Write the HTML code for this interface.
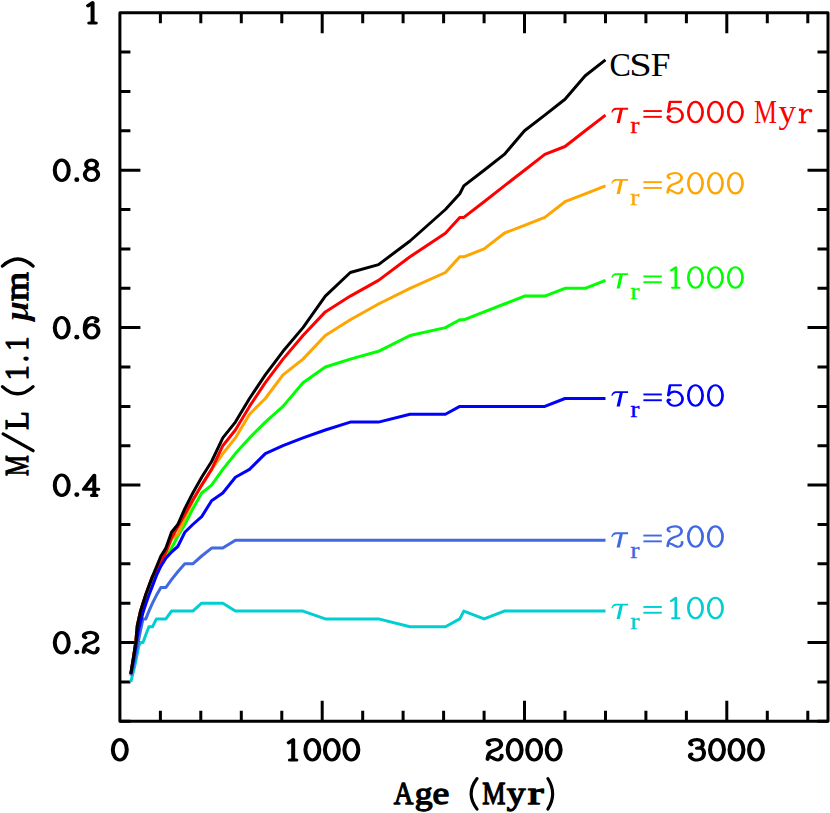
<!DOCTYPE html>
<html><head><meta charset="utf-8"><title>M/L vs Age</title>
<style>
html,body{margin:0;padding:0;background:#fff;overflow:hidden;}
svg{display:block;}
text{font-family:"Liberation Serif",serif;}
</style></head><body>
<svg width="830" height="813" viewBox="0 0 830 813">
<rect x="0" y="0" width="830" height="813" fill="#ffffff"/>

<g stroke="#000" stroke-width="3" fill="none" stroke-linecap="butt">
<rect x="119.9" y="12.7" width="708.1" height="708.6" stroke-linejoin="round"/>
<path d="M160.4 721.3 v-10.5 M160.4 12.7 v10.5 M200.8 721.3 v-10.5 M200.8 12.7 v10.5 M241.3 721.3 v-10.5 M241.3 12.7 v10.5 M281.8 721.3 v-10.5 M281.8 12.7 v10.5 M322.2 721.3 v-20.5 M322.2 12.7 v20.5 M362.7 721.3 v-10.5 M362.7 12.7 v10.5 M403.1 721.3 v-10.5 M403.1 12.7 v10.5 M443.6 721.3 v-10.5 M443.6 12.7 v10.5 M484.1 721.3 v-10.5 M484.1 12.7 v10.5 M524.5 721.3 v-20.5 M524.5 12.7 v20.5 M565.0 721.3 v-10.5 M565.0 12.7 v10.5 M605.5 721.3 v-10.5 M605.5 12.7 v10.5 M645.9 721.3 v-10.5 M645.9 12.7 v10.5 M686.4 721.3 v-10.5 M686.4 12.7 v10.5 M726.8 721.3 v-20.5 M726.8 12.7 v20.5 M767.3 721.3 v-10.5 M767.3 12.7 v10.5 M807.8 721.3 v-10.5 M807.8 12.7 v10.5 M119.9 721.3 h10.5 M828.0 721.3 h-10.5 M119.9 681.9 h10.5 M828.0 681.9 h-10.5 M119.9 642.6 h20.5 M828.0 642.6 h-20.5 M119.9 603.2 h10.5 M828.0 603.2 h-10.5 M119.9 563.8 h10.5 M828.0 563.8 h-10.5 M119.9 524.5 h10.5 M828.0 524.5 h-10.5 M119.9 485.1 h20.5 M828.0 485.1 h-20.5 M119.9 445.7 h10.5 M828.0 445.7 h-10.5 M119.9 406.4 h10.5 M828.0 406.4 h-10.5 M119.9 367.0 h10.5 M828.0 367.0 h-10.5 M119.9 327.6 h20.5 M828.0 327.6 h-20.5 M119.9 288.3 h10.5 M828.0 288.3 h-10.5 M119.9 248.9 h10.5 M828.0 248.9 h-10.5 M119.9 209.5 h10.5 M828.0 209.5 h-10.5 M119.9 170.2 h20.5 M828.0 170.2 h-20.5 M119.9 130.8 h10.5 M828.0 130.8 h-10.5 M119.9 91.4 h10.5 M828.0 91.4 h-10.5 M119.9 52.1 h10.5 M828.0 52.1 h-10.5"/>
</g>
<g fill="none" stroke-width="3" stroke-linejoin="round" stroke-linecap="butt">
<path d="M130.8 681.9 L132.0 677.2 L133.3 671.7 L134.5 667.0 L135.9 660.7 L137.3 653.6 L138.9 645.7 L140.5 642.6 L143.0 642.6 L145.8 634.7 L148.9 626.8 L152.5 626.8 L156.4 618.9 L160.9 618.9 L165.9 618.9 L171.5 611.1 L177.8 611.1 L184.8 611.1 L192.8 611.1 L201.7 603.2 L211.6 603.2 L222.8 603.2 L235.4 611.1 L249.5 611.1 L265.3 611.1 L283.0 611.1 L303.0 611.1 L325.3 618.9 L350.3 618.9 L378.5 618.9 L410.0 626.8 L445.4 626.8 L459.8 618.9 L463.8 611.1 L484.1 618.9 L504.3 611.1 L524.5 611.1 L544.8 611.1 L565.0 611.1 L585.2 611.1 L605.5 611.1" stroke="#00ced1"/>
<path d="M130.8 675.6 L132.0 671.7 L133.3 667.0 L134.5 661.5 L135.9 654.4 L137.3 647.3 L138.9 638.6 L140.5 630.8 L143.0 618.9 L145.8 618.9 L148.9 611.1 L152.5 603.2 L156.4 595.3 L160.9 587.5 L165.9 587.5 L171.5 579.6 L177.8 571.7 L184.8 563.8 L192.8 563.8 L201.7 556.0 L211.6 548.1 L222.8 548.1 L235.4 540.2 L249.5 540.2 L265.3 540.2 L283.0 540.2 L303.0 540.2 L325.3 540.2 L350.3 540.2 L378.5 540.2 L410.0 540.2 L445.4 540.2 L459.8 540.2 L463.8 540.2 L484.1 540.2 L504.3 540.2 L524.5 540.2 L544.8 540.2 L565.0 540.2 L585.2 540.2 L605.5 540.2" stroke="#4169e1"/>
<path d="M130.8 674.1 L132.0 667.0 L133.3 659.9 L134.5 652.0 L135.9 644.1 L137.3 634.7 L138.9 626.0 L140.5 618.9 L143.0 609.5 L145.8 600.8 L148.9 592.2 L152.5 582.7 L156.4 573.3 L160.9 564.6 L165.9 556.7 L171.5 548.1 L177.8 536.3 L184.8 524.5 L192.8 508.7 L201.7 493.0 L211.6 485.1 L222.8 469.4 L235.4 453.6 L249.5 437.9 L265.3 422.1 L283.0 406.4 L303.0 382.7 L325.3 367.0 L350.3 359.1 L378.5 351.3 L410.0 335.5 L445.4 327.6 L459.8 319.8 L463.8 319.8 L484.1 311.9 L504.3 304.0 L524.5 296.1 L544.8 296.1 L565.0 288.3 L585.2 288.3 L605.5 280.4" stroke="#00ff00"/>
<path d="M130.8 674.1 L132.0 666.2 L133.3 658.3 L134.5 650.4 L135.9 641.0 L137.3 625.5 L138.9 618.2 L140.5 611.1 L143.0 603.2 L145.8 594.5 L148.9 585.9 L152.5 576.4 L156.4 571.7 L160.9 562.3 L165.9 552.8 L171.5 539.4 L177.8 533.9 L184.8 518.2 L192.8 500.8 L201.7 485.1 L211.6 469.4 L222.8 453.6 L235.4 437.9 L249.5 414.2 L265.3 398.5 L283.0 374.9 L303.0 359.1 L325.3 335.5 L350.3 319.8 L378.5 304.0 L410.0 288.3 L445.4 272.5 L459.8 256.8 L463.8 256.8 L484.1 248.9 L504.3 233.2 L524.5 225.3 L544.8 217.4 L565.0 201.7 L585.2 193.8 L605.5 185.9" stroke="#ffa500"/>
<path d="M130.8 674.1 L132.0 666.2 L133.3 658.3 L134.5 650.4 L135.9 641.0 L137.3 625.5 L138.9 618.2 L140.5 611.1 L143.0 603.2 L145.8 594.5 L148.9 585.9 L152.5 576.4 L156.4 571.7 L160.9 562.3 L165.9 552.0 L171.5 537.9 L177.8 526.8 L184.8 514.2 L192.8 500.1 L201.7 485.1 L211.6 469.4 L222.8 445.7 L235.4 430.0 L249.5 406.4 L265.3 382.7 L283.0 359.1 L303.0 335.5 L325.3 311.9 L350.3 296.1 L378.5 280.4 L410.0 256.8 L445.4 233.2 L459.8 217.4 L463.8 217.4 L484.1 201.7 L504.3 185.9 L524.5 170.2 L544.8 154.4 L565.0 146.5 L585.2 130.8 L605.5 115.1" stroke="#ff0000"/>
<path d="M130.8 674.1 L132.0 667.8 L133.3 661.5 L134.5 654.4 L135.9 646.5 L137.3 637.1 L138.9 628.4 L140.5 622.1 L143.0 612.6 L145.8 604.0 L148.9 595.3 L152.5 585.9 L156.4 575.6 L160.9 566.2 L165.9 558.3 L171.5 552.0 L177.8 546.5 L184.8 532.3 L192.8 524.5 L201.7 516.6 L211.6 500.8 L222.8 493.0 L235.4 477.2 L249.5 469.4 L265.3 453.6 L283.0 445.7 L303.0 437.9 L325.3 430.0 L350.3 422.1 L378.5 422.1 L410.0 414.2 L445.4 414.2 L459.8 406.4 L463.8 406.4 L484.1 406.4 L504.3 406.4 L524.5 406.4 L544.8 406.4 L565.0 398.5 L585.2 398.5 L605.5 398.5" stroke="#0000ff"/>
<path d="M130.8 674.1 L132.0 666.2 L133.3 658.3 L134.5 650.4 L135.9 641.0 L137.3 625.5 L138.9 618.2 L140.5 611.1 L143.0 603.2 L145.8 594.5 L148.9 585.9 L152.5 576.4 L156.4 567.0 L160.9 556.0 L165.9 548.1 L171.5 532.3 L177.8 524.5 L184.8 508.7 L192.8 493.0 L201.7 477.2 L211.6 461.5 L222.8 437.9 L235.4 422.1 L249.5 398.5 L265.3 374.9 L283.0 351.3 L303.0 327.6 L325.3 296.1 L350.3 272.5 L378.5 264.6 L410.0 241.0 L445.4 209.5 L459.8 193.8 L463.8 185.9 L484.1 170.2 L504.3 154.4 L524.5 130.8 L544.8 115.1 L565.0 99.3 L585.2 75.7 L605.5 59.9" stroke="#000000"/>
</g>
<g fill="none" stroke="#000" stroke-width="3.15" stroke-linecap="round" stroke-linejoin="round">
<path transform="translate(119.80 761.40) scale(1.270 1)" d="M-5.50 -11.60 a5.50 10.20 0 1 0 11.00 0 a5.50 10.20 0 1 0 -11.00 0 Z"/>
</g>
<g fill="none" stroke="#000" stroke-width="3.15" stroke-linecap="round" stroke-linejoin="round">
<path transform="translate(292.86 761.40) scale(1.270 1)" d="M-3.3 -18.6 L0.25 -21.70 L0.25 -1.40 M-2.4 -1.40 H2.8"/>
<path transform="translate(312.36 761.40) scale(1.270 1)" d="M-5.50 -11.60 a5.50 10.20 0 1 0 11.00 0 a5.50 10.20 0 1 0 -11.00 0 Z"/>
<path transform="translate(331.86 761.40) scale(1.270 1)" d="M-5.50 -11.60 a5.50 10.20 0 1 0 11.00 0 a5.50 10.20 0 1 0 -11.00 0 Z"/>
<path transform="translate(351.36 761.40) scale(1.270 1)" d="M-5.50 -11.60 a5.50 10.20 0 1 0 11.00 0 a5.50 10.20 0 1 0 -11.00 0 Z"/>
</g>
<g fill="none" stroke="#000" stroke-width="3.15" stroke-linecap="round" stroke-linejoin="round">
<path transform="translate(495.18 761.40) scale(1.270 1)" d="M-4.60 -16.77 C-4.77 -16.89 -5.39 -17.15 -5.60 -17.46 C-5.81 -17.78 -5.90 -18.20 -5.85 -18.65 C-5.80 -19.09 -5.83 -19.66 -5.30 -20.12 C-4.77 -20.58 -3.59 -21.13 -2.69 -21.41 C-1.79 -21.69 -0.82 -21.90 0.11 -21.80 C1.04 -21.70 2.18 -21.37 2.90 -20.81 C3.62 -20.26 4.17 -19.22 4.45 -18.45 C4.73 -17.68 4.75 -16.95 4.60 -16.18 C4.44 -15.41 4.06 -14.51 3.52 -13.82 C2.98 -13.13 2.18 -12.55 1.35 -12.04 C0.52 -11.53 -0.56 -11.27 -1.44 -10.76 C-2.32 -10.25 -3.27 -9.71 -3.92 -8.99 C-4.56 -8.27 -5.00 -7.30 -5.31 -6.43 C-5.62 -5.56 -5.67 -4.49 -5.78 -3.77 C-5.90 -3.04 -5.96 -2.37 -6.00 -2.09 M-5.50 -4.65 C-5.30 -4.67 -4.82 -4.90 -4.30 -4.75 C-3.78 -4.60 -3.05 -4.19 -2.37 -3.77 C-1.69 -3.34 -0.92 -2.58 -0.20 -2.19 C0.52 -1.79 1.30 -1.40 1.97 -1.40 C2.64 -1.40 3.34 -1.73 3.83 -2.19 C4.32 -2.65 4.70 -3.52 4.91 -4.16 C5.12 -4.80 5.04 -5.72 5.07 -6.03"/>
<path transform="translate(514.68 761.40) scale(1.270 1)" d="M-5.50 -11.60 a5.50 10.20 0 1 0 11.00 0 a5.50 10.20 0 1 0 -11.00 0 Z"/>
<path transform="translate(534.18 761.40) scale(1.270 1)" d="M-5.50 -11.60 a5.50 10.20 0 1 0 11.00 0 a5.50 10.20 0 1 0 -11.00 0 Z"/>
<path transform="translate(553.68 761.40) scale(1.270 1)" d="M-5.50 -11.60 a5.50 10.20 0 1 0 11.00 0 a5.50 10.20 0 1 0 -11.00 0 Z"/>
</g>
<g fill="none" stroke="#000" stroke-width="3.15" stroke-linecap="round" stroke-linejoin="round">
<path transform="translate(697.49 761.40) scale(1.270 1)" d="M-4.60 -16.73 C-4.77 -16.85 -5.40 -17.14 -5.60 -17.43 C-5.80 -17.71 -5.86 -17.99 -5.80 -18.42 C-5.74 -18.86 -5.72 -19.53 -5.24 -20.03 C-4.76 -20.52 -3.77 -21.11 -2.92 -21.40 C-2.07 -21.70 -1.06 -21.90 -0.13 -21.80 C0.80 -21.70 1.96 -21.37 2.66 -20.81 C3.36 -20.26 3.85 -19.31 4.06 -18.46 C4.27 -17.61 4.18 -16.50 3.90 -15.71 C3.62 -14.93 3.07 -14.18 2.35 -13.75 C1.63 -13.33 0.03 -13.26 -0.44 -13.16 M-0.44 -13.16 C0.03 -13.19 1.52 -13.64 2.35 -13.34 C3.18 -13.05 4.05 -12.25 4.52 -11.40 C4.98 -10.55 5.14 -9.37 5.14 -8.26 C5.14 -7.15 4.93 -5.72 4.52 -4.74 C4.11 -3.76 3.44 -2.94 2.66 -2.39 C1.89 -1.83 0.80 -1.50 -0.13 -1.40 C-1.06 -1.30 -2.07 -1.44 -2.92 -1.80 C-3.77 -2.16 -4.73 -2.95 -5.24 -3.56 C-5.75 -4.17 -5.92 -4.94 -6.00 -5.47 C-6.08 -6.01 -5.92 -6.49 -5.70 -6.77 C-5.48 -7.05 -4.87 -7.10 -4.70 -7.17"/>
<path transform="translate(716.99 761.40) scale(1.270 1)" d="M-5.50 -11.60 a5.50 10.20 0 1 0 11.00 0 a5.50 10.20 0 1 0 -11.00 0 Z"/>
<path transform="translate(736.49 761.40) scale(1.270 1)" d="M-5.50 -11.60 a5.50 10.20 0 1 0 11.00 0 a5.50 10.20 0 1 0 -11.00 0 Z"/>
<path transform="translate(755.99 761.40) scale(1.270 1)" d="M-5.50 -11.60 a5.50 10.20 0 1 0 11.00 0 a5.50 10.20 0 1 0 -11.00 0 Z"/>
</g>
<g fill="none" stroke="#000" stroke-width="3.15" stroke-linecap="round" stroke-linejoin="round">
<path transform="translate(92.25 24.40) scale(1.270 1)" d="M-3.3 -18.6 L0.25 -21.70 L0.25 -1.40 M-2.4 -1.40 H2.8"/>
</g>
<g fill="none" stroke="#000" stroke-width="3.15" stroke-linecap="round" stroke-linejoin="round">
<path transform="translate(61.75 181.87) scale(1.270 1)" d="M-5.50 -11.60 a5.50 10.20 0 1 0 11.00 0 a5.50 10.20 0 1 0 -11.00 0 Z"/>
<ellipse cx="76.80" cy="179.67" rx="2.5" ry="2.3" fill="#000" stroke="none"/>
<path transform="translate(91.25 181.87) scale(1.270 1)" d="M-4.10 -17.50 a4.35 4.30 0 1 0 8.70 0 a4.35 4.30 0 1 0 -8.70 0 Z M-5.10 -7.25 a5.30 5.85 0 1 0 10.60 0 a5.30 5.85 0 1 0 -10.60 0 Z"/>
</g>
<g fill="none" stroke="#000" stroke-width="3.15" stroke-linecap="round" stroke-linejoin="round">
<path transform="translate(61.75 339.33) scale(1.270 1)" d="M-5.50 -11.60 a5.50 10.20 0 1 0 11.00 0 a5.50 10.20 0 1 0 -11.00 0 Z"/>
<ellipse cx="76.80" cy="337.13" rx="2.5" ry="2.3" fill="#000" stroke="none"/>
<path transform="translate(91.25 339.33) scale(1.270 1)" d="M3.60 -17.61 C3.77 -17.70 4.38 -17.89 4.60 -18.17 C4.82 -18.45 4.95 -18.92 4.90 -19.30 C4.85 -19.67 4.61 -20.10 4.30 -20.42 C3.99 -20.74 3.63 -20.98 3.03 -21.21 C2.43 -21.44 1.54 -21.87 0.72 -21.80 C-0.10 -21.73 -1.14 -21.44 -1.91 -20.82 C-2.68 -20.19 -3.40 -19.18 -3.89 -18.07 C-4.38 -16.96 -4.69 -15.59 -4.88 -14.15 C-5.07 -12.71 -5.15 -10.95 -5.04 -9.44 C-4.93 -7.94 -4.69 -6.31 -4.22 -5.13 C-3.75 -3.95 -3.01 -3.01 -2.24 -2.38 C-1.47 -1.76 -0.48 -1.40 0.40 -1.40 C1.28 -1.40 2.26 -1.76 3.03 -2.38 C3.80 -3.01 4.57 -4.15 5.01 -5.13 C5.45 -6.11 5.67 -7.22 5.67 -8.26 C5.67 -9.31 5.45 -10.49 5.01 -11.40 C4.57 -12.32 3.80 -13.23 3.03 -13.76 C2.26 -14.28 1.28 -14.58 0.40 -14.54 C-0.48 -14.51 -1.50 -14.15 -2.24 -13.56 C-2.98 -12.97 -3.61 -11.89 -4.05 -11.01 C-4.49 -10.13 -4.74 -8.72 -4.88 -8.26"/>
</g>
<g fill="none" stroke="#000" stroke-width="3.15" stroke-linecap="round" stroke-linejoin="round">
<path transform="translate(61.75 496.80) scale(1.270 1)" d="M-5.50 -11.60 a5.50 10.20 0 1 0 11.00 0 a5.50 10.20 0 1 0 -11.00 0 Z"/>
<ellipse cx="76.80" cy="494.60" rx="2.5" ry="2.3" fill="#000" stroke="none"/>
<path transform="translate(91.25 496.80) scale(1.270 1)" d="M5.6 -7.5 H-5.85 L2.38 -21.50 V-1.40 M0.5 -1.40 H4.1"/>
</g>
<g fill="none" stroke="#000" stroke-width="3.15" stroke-linecap="round" stroke-linejoin="round">
<path transform="translate(61.75 654.27) scale(1.270 1)" d="M-5.50 -11.60 a5.50 10.20 0 1 0 11.00 0 a5.50 10.20 0 1 0 -11.00 0 Z"/>
<ellipse cx="76.80" cy="652.07" rx="2.5" ry="2.3" fill="#000" stroke="none"/>
<path transform="translate(91.25 654.27) scale(1.270 1)" d="M-4.60 -16.77 C-4.77 -16.89 -5.39 -17.15 -5.60 -17.46 C-5.81 -17.78 -5.90 -18.20 -5.85 -18.65 C-5.80 -19.09 -5.83 -19.66 -5.30 -20.12 C-4.77 -20.58 -3.59 -21.13 -2.69 -21.41 C-1.79 -21.69 -0.82 -21.90 0.11 -21.80 C1.04 -21.70 2.18 -21.37 2.90 -20.81 C3.62 -20.26 4.17 -19.22 4.45 -18.45 C4.73 -17.68 4.75 -16.95 4.60 -16.18 C4.44 -15.41 4.06 -14.51 3.52 -13.82 C2.98 -13.13 2.18 -12.55 1.35 -12.04 C0.52 -11.53 -0.56 -11.27 -1.44 -10.76 C-2.32 -10.25 -3.27 -9.71 -3.92 -8.99 C-4.56 -8.27 -5.00 -7.30 -5.31 -6.43 C-5.62 -5.56 -5.67 -4.49 -5.78 -3.77 C-5.90 -3.04 -5.96 -2.37 -6.00 -2.09 M-5.50 -4.65 C-5.30 -4.67 -4.82 -4.90 -4.30 -4.75 C-3.78 -4.60 -3.05 -4.19 -2.37 -3.77 C-1.69 -3.34 -0.92 -2.58 -0.20 -2.19 C0.52 -1.79 1.30 -1.40 1.97 -1.40 C2.64 -1.40 3.34 -1.73 3.83 -2.19 C4.32 -2.65 4.70 -3.52 4.91 -4.16 C5.12 -4.80 5.04 -5.72 5.07 -6.03"/>
</g>
<text transform="translate(393.63 803.50) scale(0.8411 1)" style="font-family:&quot;Liberation Serif&quot;;font-size:32.38px;font-kerning:none;" fill="#000" stroke="#000" stroke-width="1.3" stroke-linejoin="round">A</text>
<text transform="translate(414.77 803.50) scale(1.1001 1)" style="font-family:&quot;Liberation Serif&quot;;font-size:32.38px;font-kerning:none;" fill="#000" stroke="#000" stroke-width="1.3" stroke-linejoin="round">g</text>
<text transform="translate(432.62 803.50) scale(1.1683 1)" style="font-family:&quot;Liberation Serif&quot;;font-size:32.38px;font-kerning:none;" fill="#000" stroke="#000" stroke-width="1.3" stroke-linejoin="round">e</text>
<text transform="translate(482.25 803.50) scale(0.8065 1)" style="font-family:&quot;Liberation Serif&quot;;font-size:32.38px;font-kerning:none;" fill="#000" stroke="#000" stroke-width="1.3" stroke-linejoin="round">M</text>
<text transform="translate(506.64 803.50) scale(1.1553 1)" style="font-family:&quot;Liberation Serif&quot;;font-size:32.38px;font-kerning:none;" fill="#000" stroke="#000" stroke-width="1.3" stroke-linejoin="round">y</text>
<text transform="translate(527.85 803.50) scale(1.4722 1)" style="font-family:&quot;Liberation Serif&quot;;font-size:32.38px;font-kerning:none;" fill="#000" stroke="#000" stroke-width="1.3" stroke-linejoin="round">r</text>
<path d="M477.05 778.55 Q465.25 793.85 477.05 809.15" fill="none" stroke="#000" stroke-width="3.10" stroke-linecap="round"/>
<path d="M547.85 778.55 Q557.45 793.85 547.85 809.15" fill="none" stroke="#000" stroke-width="3.10" stroke-linecap="round"/>
<g transform="translate(28.2 476.6) rotate(-90)">
<text transform="translate(0.62 0.00) scale(0.6921 1)" style="font-family:&quot;Liberation Serif&quot;;font-size:33.90px;font-kerning:none;" fill="#000" stroke="#000" stroke-width="1.3" stroke-linejoin="round">M</text>
<text transform="translate(46.93 0.00) scale(0.8928 1)" style="font-family:&quot;Liberation Serif&quot;;font-size:33.90px;font-kerning:none;" fill="#000" stroke="#000" stroke-width="1.3" stroke-linejoin="round">L</text>
<text transform="translate(96.03 0.00) scale(0.8964 1)" style="font-family:&quot;Liberation Serif&quot;;font-size:33.90px;font-kerning:none;" fill="#000" stroke="#000" stroke-width="1.3" stroke-linejoin="round">1</text>
<text transform="translate(114.71 0.00) scale(0.7987 1)" style="font-family:&quot;Liberation Serif&quot;;font-size:33.90px;font-kerning:none;" fill="#000" stroke="#000" stroke-width="1.3" stroke-linejoin="round">.</text>
<text transform="translate(125.83 0.00) scale(0.8294 1)" style="font-family:&quot;Liberation Serif&quot;;font-size:33.90px;font-kerning:none;" fill="#000" stroke="#000" stroke-width="1.3" stroke-linejoin="round">1</text>
<text transform="translate(175.52 0.00) scale(1.0983 1)" style="font-family:&quot;Liberation Serif&quot;;font-size:33.90px;font-kerning:none;" fill="#000" stroke="#000" stroke-width="1.3" stroke-linejoin="round">m</text>
<path d="M25.90 4.90 L42.70 -25.10" fill="none" stroke="#000" stroke-width="3.20" stroke-linecap="round"/>
<path d="M90.00 -25.80 Q75.60 -10.45 90.00 4.90" fill="none" stroke="#000" stroke-width="3.20" stroke-linecap="round"/>
<path d="M210.50 -25.80 Q224.70 -10.45 210.50 4.90" fill="none" stroke="#000" stroke-width="3.20" stroke-linecap="round"/>
<text transform="translate(155.79 -0.60) scale(1.1721 1.1113)" style="font-family:&quot;Liberation Serif&quot;;font-weight:bold;font-style:italic;font-size:30.00px;font-kerning:none;" fill="#000">μ</text>
</g>
<text transform="translate(609.49 76.40) scale(0.9499 1)" style="font-family:&quot;Liberation Serif&quot;;font-size:33.75px;font-kerning:none;" fill="#000">C</text>
<text transform="translate(629.29 76.40) scale(1.1997 1)" style="font-family:&quot;Liberation Serif&quot;;font-size:33.75px;font-kerning:none;" fill="#000">S</text>
<text transform="translate(650.68 76.40) scale(1.0495 1)" style="font-family:&quot;Liberation Serif&quot;;font-size:33.75px;font-kerning:none;" fill="#000">F</text>
<g fill="#ff0000"><path transform="translate(611.1 123.1)" d="M0.2 -10.9 C0.9 -13.6 2.4 -15.3 4.8 -15.3 L17.0 -15.3 L17.0 -13.4 L11.7 -13.4 L8.7 -0.1 L5.5 -0.1 L8.6 -13.4 L5.3 -13.4 C3.5 -13.4 2.3 -12.6 1.2 -10.4 Z"/><text transform="translate(630.14 133.40) scale(1.2539 1)" style="font-family:&quot;Liberation Serif&quot;;font-size:22.28px;font-kerning:none;" stroke="#ff0000" stroke-width="0.25">r</text><rect x="643.4" y="110.1" width="18.4" height="1.9"/><rect x="643.4" y="115.9" width="18.4" height="1.9"/><g fill="none" stroke="#ff0000" stroke-width="2.10" stroke-linecap="round" stroke-linejoin="round">
<path transform="translate(675.52 123.70) scale(1.300 1)" d="M4.0 -21.80 H-4.3 L-5.52 -11.79 M-5.52 -11.79 C-5.18 -12.23 -4.35 -13.82 -3.50 -14.43 C-2.65 -15.04 -1.43 -15.48 -0.40 -15.45 C0.63 -15.42 1.84 -14.95 2.70 -14.24 C3.56 -13.54 4.32 -12.23 4.77 -11.22 C5.22 -10.21 5.43 -9.27 5.42 -8.20 C5.41 -7.13 5.21 -5.80 4.71 -4.80 C4.21 -3.81 3.29 -2.80 2.39 -2.23 C1.49 -1.67 0.32 -1.35 -0.71 -1.40 C-1.74 -1.45 -2.98 -1.91 -3.81 -2.54 C-4.64 -3.17 -5.32 -4.48 -5.67 -5.18 C-6.02 -5.88 -5.98 -6.35 -5.90 -6.74 C-5.82 -7.13 -5.47 -7.45 -5.20 -7.51 C-4.93 -7.57 -4.45 -7.19 -4.30 -7.13"/>
<path transform="translate(695.48 123.70) scale(1.300 1)" d="M-5.50 -11.60 a5.50 10.20 0 1 0 11.00 0 a5.50 10.20 0 1 0 -11.00 0 Z"/>
<path transform="translate(715.43 123.70) scale(1.300 1)" d="M-5.50 -11.60 a5.50 10.20 0 1 0 11.00 0 a5.50 10.20 0 1 0 -11.00 0 Z"/>
<path transform="translate(735.38 123.70) scale(1.300 1)" d="M-5.50 -11.60 a5.50 10.20 0 1 0 11.00 0 a5.50 10.20 0 1 0 -11.00 0 Z"/>
</g><text transform="translate(754.05 123.10) scale(0.7665 1)" style="font-family:&quot;Liberation Serif&quot;;font-size:33.75px;font-kerning:none;">M</text><text transform="translate(778.57 123.10) scale(1.0409 1)" style="font-family:&quot;Liberation Serif&quot;;font-size:33.75px;font-kerning:none;">y</text><g fill="none" stroke="#ff0000" stroke-linecap="butt"><path d="M798.9 109.7 H802.4 M802.4 108.9 V122.4" stroke-width="2.5"/><path d="M798.6 122.4 H806.2" stroke-width="1.6"/><path d="M802.9 115.0 C803.6 112.0 806.2 109.4 809.6 109.6" stroke-width="1.9"/><circle cx="810.6" cy="110.8" r="1.8" fill="#ff0000" stroke="none"/></g></g>
<g fill="#ffa500"><path transform="translate(611.1 194.2)" d="M0.2 -10.9 C0.9 -13.6 2.4 -15.3 4.8 -15.3 L17.0 -15.3 L17.0 -13.4 L11.7 -13.4 L8.7 -0.1 L5.5 -0.1 L8.6 -13.4 L5.3 -13.4 C3.5 -13.4 2.3 -12.6 1.2 -10.4 Z"/><text transform="translate(630.14 204.50) scale(1.2539 1)" style="font-family:&quot;Liberation Serif&quot;;font-size:22.28px;font-kerning:none;" stroke="#ffa500" stroke-width="0.25">r</text><rect x="643.4" y="181.2" width="18.4" height="1.9"/><rect x="643.4" y="187.0" width="18.4" height="1.9"/><g fill="none" stroke="#ffa500" stroke-width="2.10" stroke-linecap="round" stroke-linejoin="round">
<path transform="translate(675.52 194.80) scale(1.300 1)" d="M-4.60 -16.77 C-4.77 -16.89 -5.39 -17.15 -5.60 -17.46 C-5.81 -17.78 -5.90 -18.20 -5.85 -18.65 C-5.80 -19.09 -5.83 -19.66 -5.30 -20.12 C-4.77 -20.58 -3.59 -21.13 -2.69 -21.41 C-1.79 -21.69 -0.82 -21.90 0.11 -21.80 C1.04 -21.70 2.18 -21.37 2.90 -20.81 C3.62 -20.26 4.17 -19.22 4.45 -18.45 C4.73 -17.68 4.75 -16.95 4.60 -16.18 C4.44 -15.41 4.06 -14.51 3.52 -13.82 C2.98 -13.13 2.18 -12.55 1.35 -12.04 C0.52 -11.53 -0.56 -11.27 -1.44 -10.76 C-2.32 -10.25 -3.27 -9.71 -3.92 -8.99 C-4.56 -8.27 -5.00 -7.30 -5.31 -6.43 C-5.62 -5.56 -5.67 -4.49 -5.78 -3.77 C-5.90 -3.04 -5.96 -2.37 -6.00 -2.09 M-5.50 -4.65 C-5.30 -4.67 -4.82 -4.90 -4.30 -4.75 C-3.78 -4.60 -3.05 -4.19 -2.37 -3.77 C-1.69 -3.34 -0.92 -2.58 -0.20 -2.19 C0.52 -1.79 1.30 -1.40 1.97 -1.40 C2.64 -1.40 3.34 -1.73 3.83 -2.19 C4.32 -2.65 4.70 -3.52 4.91 -4.16 C5.12 -4.80 5.04 -5.72 5.07 -6.03"/>
<path transform="translate(695.48 194.80) scale(1.300 1)" d="M-5.50 -11.60 a5.50 10.20 0 1 0 11.00 0 a5.50 10.20 0 1 0 -11.00 0 Z"/>
<path transform="translate(715.43 194.80) scale(1.300 1)" d="M-5.50 -11.60 a5.50 10.20 0 1 0 11.00 0 a5.50 10.20 0 1 0 -11.00 0 Z"/>
<path transform="translate(735.38 194.80) scale(1.300 1)" d="M-5.50 -11.60 a5.50 10.20 0 1 0 11.00 0 a5.50 10.20 0 1 0 -11.00 0 Z"/>
</g></g>
<g fill="#00ff00"><path transform="translate(611.1 288.5)" d="M0.2 -10.9 C0.9 -13.6 2.4 -15.3 4.8 -15.3 L17.0 -15.3 L17.0 -13.4 L11.7 -13.4 L8.7 -0.1 L5.5 -0.1 L8.6 -13.4 L5.3 -13.4 C3.5 -13.4 2.3 -12.6 1.2 -10.4 Z"/><text transform="translate(630.14 298.80) scale(1.2539 1)" style="font-family:&quot;Liberation Serif&quot;;font-size:22.28px;font-kerning:none;" stroke="#00ff00" stroke-width="0.25">r</text><rect x="643.4" y="275.5" width="18.4" height="1.9"/><rect x="643.4" y="281.3" width="18.4" height="1.9"/><g fill="none" stroke="#00ff00" stroke-width="2.10" stroke-linecap="round" stroke-linejoin="round">
<path transform="translate(675.52 289.10) scale(1.300 1)" d="M-3.3 -18.6 L0.25 -21.70 L0.25 -1.40 M-2.4 -1.40 H2.8"/>
<path transform="translate(695.48 289.10) scale(1.300 1)" d="M-5.50 -11.60 a5.50 10.20 0 1 0 11.00 0 a5.50 10.20 0 1 0 -11.00 0 Z"/>
<path transform="translate(715.43 289.10) scale(1.300 1)" d="M-5.50 -11.60 a5.50 10.20 0 1 0 11.00 0 a5.50 10.20 0 1 0 -11.00 0 Z"/>
<path transform="translate(735.38 289.10) scale(1.300 1)" d="M-5.50 -11.60 a5.50 10.20 0 1 0 11.00 0 a5.50 10.20 0 1 0 -11.00 0 Z"/>
</g></g>
<g fill="#0000ff"><path transform="translate(611.1 406.5)" d="M0.2 -10.9 C0.9 -13.6 2.4 -15.3 4.8 -15.3 L17.0 -15.3 L17.0 -13.4 L11.7 -13.4 L8.7 -0.1 L5.5 -0.1 L8.6 -13.4 L5.3 -13.4 C3.5 -13.4 2.3 -12.6 1.2 -10.4 Z"/><text transform="translate(630.14 416.80) scale(1.2539 1)" style="font-family:&quot;Liberation Serif&quot;;font-size:22.28px;font-kerning:none;" stroke="#0000ff" stroke-width="0.25">r</text><rect x="643.4" y="393.5" width="18.4" height="1.9"/><rect x="643.4" y="399.3" width="18.4" height="1.9"/><g fill="none" stroke="#0000ff" stroke-width="2.10" stroke-linecap="round" stroke-linejoin="round">
<path transform="translate(675.52 407.10) scale(1.300 1)" d="M4.0 -21.80 H-4.3 L-5.52 -11.79 M-5.52 -11.79 C-5.18 -12.23 -4.35 -13.82 -3.50 -14.43 C-2.65 -15.04 -1.43 -15.48 -0.40 -15.45 C0.63 -15.42 1.84 -14.95 2.70 -14.24 C3.56 -13.54 4.32 -12.23 4.77 -11.22 C5.22 -10.21 5.43 -9.27 5.42 -8.20 C5.41 -7.13 5.21 -5.80 4.71 -4.80 C4.21 -3.81 3.29 -2.80 2.39 -2.23 C1.49 -1.67 0.32 -1.35 -0.71 -1.40 C-1.74 -1.45 -2.98 -1.91 -3.81 -2.54 C-4.64 -3.17 -5.32 -4.48 -5.67 -5.18 C-6.02 -5.88 -5.98 -6.35 -5.90 -6.74 C-5.82 -7.13 -5.47 -7.45 -5.20 -7.51 C-4.93 -7.57 -4.45 -7.19 -4.30 -7.13"/>
<path transform="translate(695.48 407.10) scale(1.300 1)" d="M-5.50 -11.60 a5.50 10.20 0 1 0 11.00 0 a5.50 10.20 0 1 0 -11.00 0 Z"/>
<path transform="translate(715.43 407.10) scale(1.300 1)" d="M-5.50 -11.60 a5.50 10.20 0 1 0 11.00 0 a5.50 10.20 0 1 0 -11.00 0 Z"/>
</g></g>
<g fill="#4169e1"><path transform="translate(611.1 547.6)" d="M0.2 -10.9 C0.9 -13.6 2.4 -15.3 4.8 -15.3 L17.0 -15.3 L17.0 -13.4 L11.7 -13.4 L8.7 -0.1 L5.5 -0.1 L8.6 -13.4 L5.3 -13.4 C3.5 -13.4 2.3 -12.6 1.2 -10.4 Z"/><text transform="translate(630.14 557.90) scale(1.2539 1)" style="font-family:&quot;Liberation Serif&quot;;font-size:22.28px;font-kerning:none;" stroke="#4169e1" stroke-width="0.25">r</text><rect x="643.4" y="534.6" width="18.4" height="1.9"/><rect x="643.4" y="540.4" width="18.4" height="1.9"/><g fill="none" stroke="#4169e1" stroke-width="2.10" stroke-linecap="round" stroke-linejoin="round">
<path transform="translate(675.52 548.20) scale(1.300 1)" d="M-4.60 -16.77 C-4.77 -16.89 -5.39 -17.15 -5.60 -17.46 C-5.81 -17.78 -5.90 -18.20 -5.85 -18.65 C-5.80 -19.09 -5.83 -19.66 -5.30 -20.12 C-4.77 -20.58 -3.59 -21.13 -2.69 -21.41 C-1.79 -21.69 -0.82 -21.90 0.11 -21.80 C1.04 -21.70 2.18 -21.37 2.90 -20.81 C3.62 -20.26 4.17 -19.22 4.45 -18.45 C4.73 -17.68 4.75 -16.95 4.60 -16.18 C4.44 -15.41 4.06 -14.51 3.52 -13.82 C2.98 -13.13 2.18 -12.55 1.35 -12.04 C0.52 -11.53 -0.56 -11.27 -1.44 -10.76 C-2.32 -10.25 -3.27 -9.71 -3.92 -8.99 C-4.56 -8.27 -5.00 -7.30 -5.31 -6.43 C-5.62 -5.56 -5.67 -4.49 -5.78 -3.77 C-5.90 -3.04 -5.96 -2.37 -6.00 -2.09 M-5.50 -4.65 C-5.30 -4.67 -4.82 -4.90 -4.30 -4.75 C-3.78 -4.60 -3.05 -4.19 -2.37 -3.77 C-1.69 -3.34 -0.92 -2.58 -0.20 -2.19 C0.52 -1.79 1.30 -1.40 1.97 -1.40 C2.64 -1.40 3.34 -1.73 3.83 -2.19 C4.32 -2.65 4.70 -3.52 4.91 -4.16 C5.12 -4.80 5.04 -5.72 5.07 -6.03"/>
<path transform="translate(695.48 548.20) scale(1.300 1)" d="M-5.50 -11.60 a5.50 10.20 0 1 0 11.00 0 a5.50 10.20 0 1 0 -11.00 0 Z"/>
<path transform="translate(715.43 548.20) scale(1.300 1)" d="M-5.50 -11.60 a5.50 10.20 0 1 0 11.00 0 a5.50 10.20 0 1 0 -11.00 0 Z"/>
</g></g>
<g fill="#00ced1"><path transform="translate(611.1 619.0)" d="M0.2 -10.9 C0.9 -13.6 2.4 -15.3 4.8 -15.3 L17.0 -15.3 L17.0 -13.4 L11.7 -13.4 L8.7 -0.1 L5.5 -0.1 L8.6 -13.4 L5.3 -13.4 C3.5 -13.4 2.3 -12.6 1.2 -10.4 Z"/><text transform="translate(630.14 629.30) scale(1.2539 1)" style="font-family:&quot;Liberation Serif&quot;;font-size:22.28px;font-kerning:none;" stroke="#00ced1" stroke-width="0.25">r</text><rect x="643.4" y="606.0" width="18.4" height="1.9"/><rect x="643.4" y="611.8" width="18.4" height="1.9"/><g fill="none" stroke="#00ced1" stroke-width="2.10" stroke-linecap="round" stroke-linejoin="round">
<path transform="translate(675.52 619.60) scale(1.300 1)" d="M-3.3 -18.6 L0.25 -21.70 L0.25 -1.40 M-2.4 -1.40 H2.8"/>
<path transform="translate(695.48 619.60) scale(1.300 1)" d="M-5.50 -11.60 a5.50 10.20 0 1 0 11.00 0 a5.50 10.20 0 1 0 -11.00 0 Z"/>
<path transform="translate(715.43 619.60) scale(1.300 1)" d="M-5.50 -11.60 a5.50 10.20 0 1 0 11.00 0 a5.50 10.20 0 1 0 -11.00 0 Z"/>
</g></g>
</svg></body></html>
